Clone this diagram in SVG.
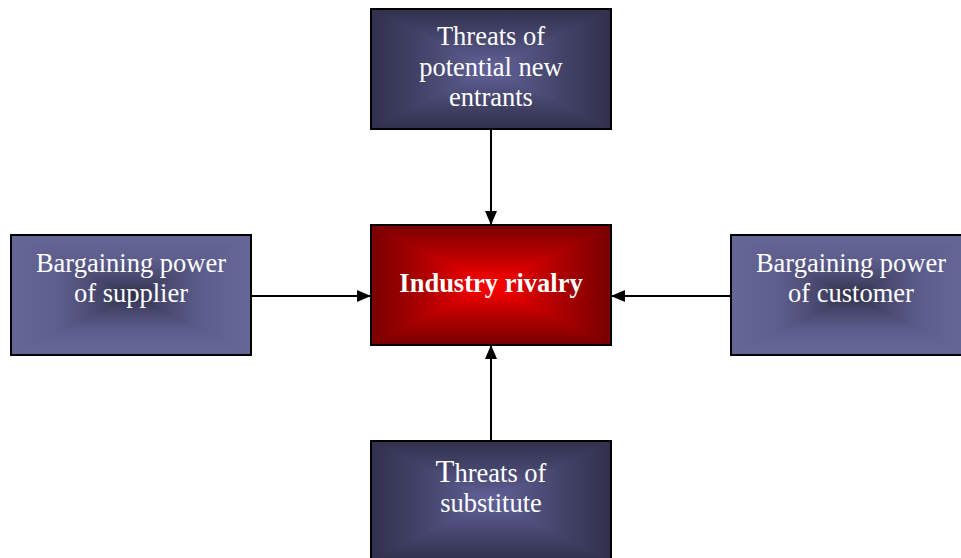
<svg xmlns="http://www.w3.org/2000/svg" width="961" height="558" viewBox="0 0 961 558">
  <style>
    .frame { fill: none; stroke: #000; stroke-width: 2; }
    .tri { shape-rendering: crispEdges; }
    .label { font-family: "Liberation Serif", "Times New Roman", serif; font-size: 26.5px; fill: #fff; text-anchor: middle; }
    .bold { font-weight: bold; }
    .link { stroke: #000; stroke-width: 2; fill: none; marker-end: url(#head); }
  </style>
  <defs>
    <marker id="head" viewBox="0 0 14 12" refX="14" refY="6" markerWidth="14" markerHeight="12" markerUnits="userSpaceOnUse" orient="auto">
      <path d="M0,0 L14,6 L0,12 Z" fill="#000"/>
    </marker>
    <!-- navy: darker rim, lighter centre -->
    <linearGradient id="navyH" x1="0" y1="0" x2="1" y2="0"><stop offset="0" stop-color="#30304c"/><stop offset="0.45" stop-color="#45456c"/><stop offset="1" stop-color="#62629a"/></linearGradient>
    <linearGradient id="navyHr" x1="1" y1="0" x2="0" y2="0"><stop offset="0" stop-color="#30304c"/><stop offset="0.45" stop-color="#45456c"/><stop offset="1" stop-color="#62629a"/></linearGradient>
    <linearGradient id="navyV" x1="0" y1="0" x2="0" y2="1"><stop offset="0" stop-color="#30304c"/><stop offset="0.45" stop-color="#45456c"/><stop offset="1" stop-color="#62629a"/></linearGradient>
    <linearGradient id="navyVr" x1="0" y1="1" x2="0" y2="0"><stop offset="0" stop-color="#30304c"/><stop offset="0.45" stop-color="#45456c"/><stop offset="1" stop-color="#62629a"/></linearGradient>
    <!-- lavender: lighter rim, darker centre -->
    <linearGradient id="lavH" x1="0" y1="0" x2="1" y2="0"><stop offset="0" stop-color="#666698"/><stop offset="0.4" stop-color="#5e5e8e"/><stop offset="0.75" stop-color="#46466c"/><stop offset="1" stop-color="#30304a"/></linearGradient>
    <linearGradient id="lavHr" x1="1" y1="0" x2="0" y2="0"><stop offset="0" stop-color="#666698"/><stop offset="0.4" stop-color="#5e5e8e"/><stop offset="0.75" stop-color="#46466c"/><stop offset="1" stop-color="#30304a"/></linearGradient>
    <linearGradient id="lavV" x1="0" y1="0" x2="0" y2="1"><stop offset="0" stop-color="#666698"/><stop offset="0.4" stop-color="#5e5e8e"/><stop offset="0.75" stop-color="#46466c"/><stop offset="1" stop-color="#30304a"/></linearGradient>
    <linearGradient id="lavVr" x1="0" y1="1" x2="0" y2="0"><stop offset="0" stop-color="#666698"/><stop offset="0.4" stop-color="#5e5e8e"/><stop offset="0.75" stop-color="#46466c"/><stop offset="1" stop-color="#30304a"/></linearGradient>
    <!-- red: dark rim, bright centre -->
    <linearGradient id="redH" x1="0" y1="0" x2="1" y2="0"><stop offset="0" stop-color="#780000"/><stop offset="0.45" stop-color="#b00000"/><stop offset="1" stop-color="#ff0000"/></linearGradient>
    <linearGradient id="redHr" x1="1" y1="0" x2="0" y2="0"><stop offset="0" stop-color="#780000"/><stop offset="0.45" stop-color="#b00000"/><stop offset="1" stop-color="#ff0000"/></linearGradient>
    <linearGradient id="redV" x1="0" y1="0" x2="0" y2="1"><stop offset="0" stop-color="#780000"/><stop offset="0.45" stop-color="#b00000"/><stop offset="1" stop-color="#ff0000"/></linearGradient>
    <linearGradient id="redVr" x1="0" y1="1" x2="0" y2="0"><stop offset="0" stop-color="#780000"/><stop offset="0.45" stop-color="#b00000"/><stop offset="1" stop-color="#ff0000"/></linearGradient>
  </defs>

  <!-- connectors -->
  <g id="connectors">
    <line class="link" x1="491" y1="130" x2="491" y2="225"/>
    <line class="link" x1="252" y1="296" x2="371" y2="296"/>
    <line class="link" x1="730" y1="296" x2="611" y2="296"/>
    <line class="link" x1="491" y1="440" x2="491" y2="345"/>
  </g>

  <!-- Threats of potential new entrants (box 371,9 240x120) -->
  <g id="new-entrants">
    <rect x="371" y="9" width="240" height="120" fill="#45456c"/>
    <polygon class="tri" points="371,9 491,69 371,129" fill="url(#navyH)"/>
    <polygon class="tri" points="611,9 491,69 611,129" fill="url(#navyHr)"/>
    <polygon class="tri" points="371,9 611,9 491,69" fill="url(#navyV)"/>
    <polygon class="tri" points="371,129 611,129 491,69" fill="url(#navyVr)"/>
    <rect class="frame" x="371" y="9" width="240" height="120"/>
    <text class="label" x="491" y="45">Threats of</text>
    <text class="label" x="491" y="75.5">potential new</text>
    <text class="label" x="491" y="106">entrants</text>
  </g>

  <!-- Bargaining power of supplier (box 11,235 240x120) -->
  <g id="supplier">
    <rect x="11" y="235" width="240" height="120" fill="#5a5a88"/>
    <polygon class="tri" points="11,235 131,295 11,355" fill="url(#lavH)"/>
    <polygon class="tri" points="251,235 131,295 251,355" fill="url(#lavHr)"/>
    <polygon class="tri" points="11,235 251,235 131,295" fill="url(#lavV)"/>
    <polygon class="tri" points="11,355 251,355 131,295" fill="url(#lavVr)"/>
    <rect class="frame" x="11" y="235" width="240" height="120"/>
    <text class="label" x="131" y="272">Bargaining power</text>
    <text class="label" x="131" y="302">of supplier</text>
  </g>

  <!-- Industry rivalry (box 371,225 240x120) -->
  <g id="rivalry">
    <rect x="371" y="225" width="240" height="120" fill="#b00000"/>
    <polygon class="tri" points="371,225 491,285 371,345" fill="url(#redH)"/>
    <polygon class="tri" points="611,225 491,285 611,345" fill="url(#redHr)"/>
    <polygon class="tri" points="371,225 611,225 491,285" fill="url(#redV)"/>
    <polygon class="tri" points="371,345 611,345 491,285" fill="url(#redVr)"/>
    <rect class="frame" x="371" y="225" width="240" height="120"/>
    <text class="label bold" x="491" y="292">Industry rivalry</text>
  </g>

  <!-- Bargaining power of customer (box 731,235 240x120) -->
  <g id="customer">
    <rect x="731" y="235" width="240" height="120" fill="#5a5a88"/>
    <polygon class="tri" points="731,235 851,295 731,355" fill="url(#lavH)"/>
    <polygon class="tri" points="971,235 851,295 971,355" fill="url(#lavHr)"/>
    <polygon class="tri" points="731,235 971,235 851,295" fill="url(#lavV)"/>
    <polygon class="tri" points="731,355 971,355 851,295" fill="url(#lavVr)"/>
    <rect class="frame" x="731" y="235" width="240" height="120"/>
    <text class="label" x="851" y="272">Bargaining power</text>
    <text class="label" x="851" y="302">of customer</text>
  </g>

  <!-- Threats of substitute (box 371,441 240x120) -->
  <g id="substitute">
    <rect x="371" y="441" width="240" height="120" fill="#45456c"/>
    <polygon class="tri" points="371,441 491,501 371,561" fill="url(#navyH)"/>
    <polygon class="tri" points="611,441 491,501 611,561" fill="url(#navyHr)"/>
    <polygon class="tri" points="371,441 611,441 491,501" fill="url(#navyV)"/>
    <polygon class="tri" points="371,561 611,561 491,501" fill="url(#navyVr)"/>
    <rect class="frame" x="371" y="441" width="240" height="120"/>
    <text class="label" x="491" y="482"><tspan font-size="31">T</tspan>hreats of</text>
    <text class="label" x="491" y="512">substitute</text>
  </g>
</svg>
